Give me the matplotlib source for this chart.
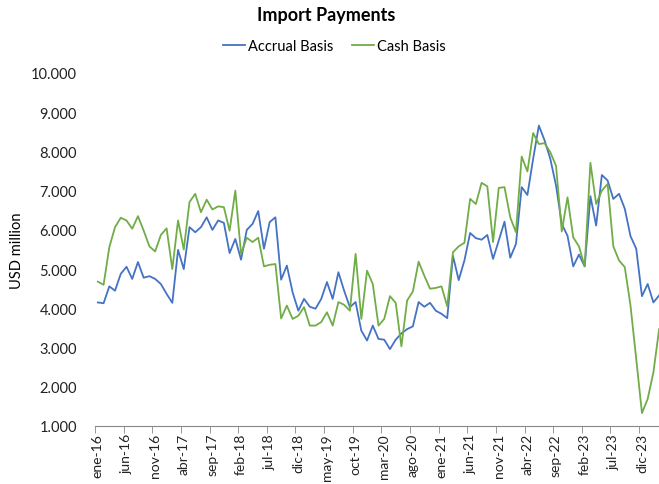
import matplotlib.pyplot as plt
from matplotlib.ticker import FuncFormatter, FixedLocator

# monthly series, ene-16 .. mar-24 (USD million)
months_es = ["ene", "feb", "mar", "abr", "may", "jun",
             "jul", "ago", "sep", "oct", "nov", "dic"]

accrual = [4150, 4130, 4560, 4450, 4880, 5060, 4750, 5180, 4780, 4820, 4750, 4620,
           4370, 4140, 5490, 5000, 6070, 5940, 6070, 6320, 6000, 6240, 6180, 5410,
           5770, 5240, 6000, 6150, 6480, 5520, 6200, 6320, 4730, 5090, 4410, 3940,
           4240, 4040, 3990, 4240, 4670, 4240, 4920, 4450, 4030, 4160, 3430, 3180,
           3560, 3220, 3200, 2960, 3200, 3360, 3470, 3540, 4160, 4040, 4140, 3940,
           3860, 3750, 5340, 4720, 5220, 5920, 5790, 5750, 5870, 5260, 5730, 6210,
           5290, 5640, 7090, 6890, 7810, 8660, 8280, 7810, 7130, 6150, 5850, 5070,
           5370, 5070, 6860, 6110, 7400, 7260, 6790, 6920, 6540, 5840, 5520, 4310,
           4620, 4150, 4330]

cash = [4680, 4600, 5560, 6070, 6310, 6240, 6030, 6350, 5980, 5580, 5450, 5870,
        6040, 5000, 6240, 5500, 6710, 6920, 6450, 6770, 6520, 6600, 6580, 5980,
        7000, 5390, 5800, 5690, 5800, 5070, 5110, 5130, 3740, 4070, 3730, 3810,
        4030, 3560, 3560, 3650, 3900, 3560, 4160, 4090, 3940, 5390, 3730, 4960,
        4620, 3560, 3730, 4310, 4140, 3030, 4200, 4430, 5190, 4830, 4500, 4520,
        4560, 4050, 5430, 5580, 5670, 6790, 6660, 7200, 7110, 5690, 7070, 7090,
        6320, 5940, 7870, 7490, 8470, 8190, 8210, 7980, 7630, 5960, 6830, 5810,
        5580, 5070, 7710, 6660, 7000, 7170, 5580, 5220, 5050, 4070, 2710, 1330,
        1690, 2370, 3470]

labels = [f"{months_es[i % 12]}-{16 + i // 12}" for i in range(len(accrual))]
x = list(range(len(accrual)))

plt.rcParams["font.family"] = ["Lato", "DejaVu Sans"]

fig = plt.figure(figsize=(6.59, 4.85), dpi=100)
ax = fig.add_axes([95 / 659, 58 / 485, 567 / 659, 353 / 485])

ax.plot(x, accrual, color="#4472C4", lw=1.3, label="Accrual Basis")
ax.plot(x, cash, color="#70AD47", lw=1.3, label="Cash Basis")

ax.set_xlim(-0.5, len(x) - 0.5)
ax.set_ylim(1000, 10000)
ax.set_yticks(range(1000, 10001, 1000))
ax.yaxis.set_major_formatter(FuncFormatter(lambda v, p: f"{v:,.0f}".replace(",", ".")))

# labels centred on categories, tick marks between them
ax.set_xticks(x[::5])
ax.set_xticklabels(labels[::5], rotation=90)
ax.xaxis.set_minor_locator(FixedLocator([i - 0.5 for i in x[::5]]))
ax.tick_params(axis="x", which="major", length=0, pad=5, labelsize=10, colors="#222222")
ax.tick_params(axis="x", which="minor", length=5, direction="out", color="#888888")
ax.tick_params(axis="y", length=0, pad=13, labelsize=10.5, colors="#222222")

for s in ["top", "right", "left"]:
    ax.spines[s].set_visible(False)
ax.spines["bottom"].set_color("#888888")

ax.set_ylabel("USD million", fontsize=10.5)
ax.yaxis.set_label_coords(-0.125, 0.5)

fig.suptitle("Import Payments", x=0.495, y=0.985, fontsize=13, fontweight="bold")
fig.legend(loc="center", bbox_to_anchor=(0.507, 0.903), ncol=2, frameon=False,
           fontsize=10.5, handlelength=1.5, handletextpad=0.2, columnspacing=1.3)

fig.savefig("out.png", dpi=100)
